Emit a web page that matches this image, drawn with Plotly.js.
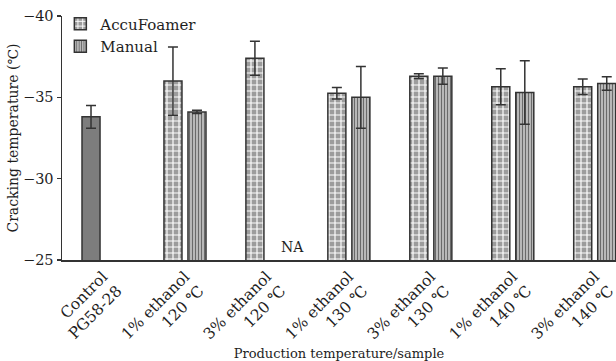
<!DOCTYPE html>
<html>
<head>
<meta charset="utf-8">
<script src="https://cdn.plot.ly/plotly-3.0.1.min.js"></script>
<style>html,body{margin:0;padding:0;background:#fff;}#chart{width:616px;height:361px;}</style>
</head>
<body>
<div id="chart"></div>
<script>
// Data
const categories = [
  "Control<br>PG58-28",
  "1% ethanol<br>120 ℃",
  "3% ethanol<br>120 ℃",
  "1% ethanol<br>130 ℃",
  "3% ethanol<br>130 ℃",
  "1% ethanol<br>140 ℃",
  "3% ethanol<br>140 ℃"
];
const controlValue = [-33.8];
const controlError = [0.7];
const accuValues = [-36.0, -37.4, -35.25, -36.3, -35.65, -35.65];
const accuErrors = [2.1, 1.05, 0.35, 0.15, 1.1, 0.47];
const manualValues = [-34.1, null, -35.0, -36.3, -35.3, -35.85];
const manualErrors = [0.1, null, 1.9, 0.5, 1.95, 0.42];
const yTicks = [-40, -35, -30, -25];
const naLabel = "NA";

const FONT = "DejaVu Serif";
const TXT = "#1e1e1e";
const DARK = "#333333";
const BW = 0.22;
const errStyle = {type: "data", visible: true, color: DARK, thickness: 1.5, width: 5};

const traces = [
  {
    type: "bar", name: "Control", showlegend: false,
    x: [categories[0]], y: controlValue,
    width: BW, offset: -0.256,
    marker: {color: "#7d7d7d", line: {color: DARK, width: 1.5}},
    error_y: Object.assign({array: controlError}, errStyle)
  },
  {
    type: "bar", name: "AccuFoamer",
    x: categories.slice(1), y: accuValues,
    width: BW, offset: -0.256,
    marker: {color: "#ffffff", line: {color: DARK, width: 1.5},
      pattern: {shape: "+", fgcolor: "#ffffff", bgcolor: "#9c9c9c", size: 6, solidity: 0.35, fillmode: "replace"}},
    error_y: Object.assign({array: accuErrors}, errStyle)
  },
  {
    type: "bar", name: "Manual",
    x: categories.slice(1), y: manualValues,
    width: BW, offset: 0.037,
    marker: {color: "#ffffff", line: {color: DARK, width: 1.5},
      pattern: {shape: "|", fgcolor: "#6a6a6a", bgcolor: "#c8c8c8", size: 3, solidity: 0.45, fillmode: "replace"}},
    error_y: Object.assign({array: manualErrors}, errStyle)
  }
];

const layout = {
  width: 616, height: 361,
  margin: {l: 62, r: 0, t: 16, b: 101},
  paper_bgcolor: "#ffffff", plot_bgcolor: "#ffffff",
  font: {family: FONT, size: 14, color: TXT},
  barmode: "overlay",
  showlegend: true,
  legend: {x: -0.003, y: 1.035, xanchor: "left", yanchor: "top",
    bgcolor: "rgba(0,0,0,0)", font: {family: FONT, size: 15, color: TXT},
    tracegroupgap: 0, itemwidth: 30},
  xaxis: {
    type: "category", categoryorder: "array", categoryarray: categories,
    range: [-0.5, 6.26], tickangle: -45,
    showline: true, linecolor: DARK, linewidth: 1.5,
    ticks: "", showgrid: false, zeroline: false,
    tickfont: {family: FONT, size: 15.5, color: TXT},
    title: {text: "Production temperature/sample", font: {family: FONT, size: 13, color: TXT}, standoff: 12}
  },
  yaxis: {
    range: [-25, -40], tickvals: yTicks,
    showline: true, linecolor: DARK, linewidth: 1.5, mirror: false,
    ticks: "outside", ticklen: 4, tickwidth: 1.5, tickcolor: DARK,
    showgrid: false, zeroline: false,
    tickfont: {family: FONT, size: 14.5, color: TXT},
    title: {text: "Cracking temperature (℃)", font: {family: FONT, size: 14, color: TXT}, standoff: 1}
  },
  annotations: [{
    x: categories[2], y: -25, xref: "x", yref: "y",
    xshift: 12, yshift: 3, xanchor: "left", yanchor: "bottom",
    text: naLabel, showarrow: false,
    font: {family: FONT, size: 14, color: TXT}
  }]
};

Plotly.newPlot("chart", traces, layout, {displayModeBar: false, staticPlot: true});
</script>
</body>
</html>
